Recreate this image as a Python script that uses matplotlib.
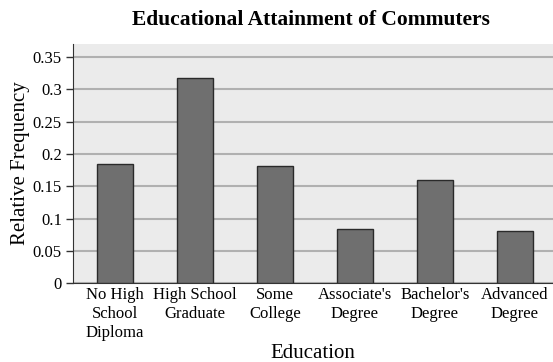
import matplotlib
matplotlib.use("Agg")
import matplotlib.pyplot as plt

# data
categories = ['No High\nSchool\nDiploma', 'High School\nGraduate', 'Some\nCollege',
              "Associate's\nDegree", "Bachelor's\nDegree", 'Advanced\nDegree']
rel_freq = [0.184, 0.318, 0.181, 0.083, 0.159, 0.080]
yticks = [0, 0.05, 0.1, 0.15, 0.2, 0.25, 0.3, 0.35]
ytick_labels = ['0', '0.05', '0.1', '0.15', '0.2', '0.25', '0.3', '0.35']

plt.rcParams['font.family'] = ['Liberation Serif', 'DejaVu Serif']

fig = plt.figure(figsize=(5.53, 3.62), dpi=100)
ax = fig.add_axes([0.132, 0.218, 0.868, 0.66])
ax.set_facecolor('#ebebeb')

x = list(range(len(categories)))
ax.bar(x, rel_freq, width=0.45, color='#6f6f6f', edgecolor='#2a2a2a', linewidth=1.0, zorder=3)

ax.set_xlim(-0.525, 5.475)
ax.set_ylim(0, 0.37)
ax.set_yticks(yticks)
ax.set_yticklabels(ytick_labels, fontsize=12)
ax.set_xticks(x)
ax.set_xticklabels(categories, fontsize=12, linespacing=1.25)
ax.tick_params(axis='x', length=0, pad=3)
ax.tick_params(axis='y', length=5, width=1, color='#333333', direction='out', pad=3)

ax.yaxis.grid(True, color='#b0b0b0', linewidth=1.5, zorder=0)
ax.set_axisbelow(True)
for side in ['top', 'right']:
    ax.spines[side].set_visible(False)
ax.spines['left'].set_color('#333333')
ax.spines['bottom'].set_color('#333333')

ax.set_ylabel('Relative Frequency', fontsize=15, labelpad=2)
ax.set_xlabel('Education', fontsize=15, labelpad=2)
fig.text(0.563, 0.945, 'Educational Attainment of Commuters', ha='center', va='center',
         fontsize=15.5, fontweight='bold')

fig.savefig('out.png', dpi=100)
